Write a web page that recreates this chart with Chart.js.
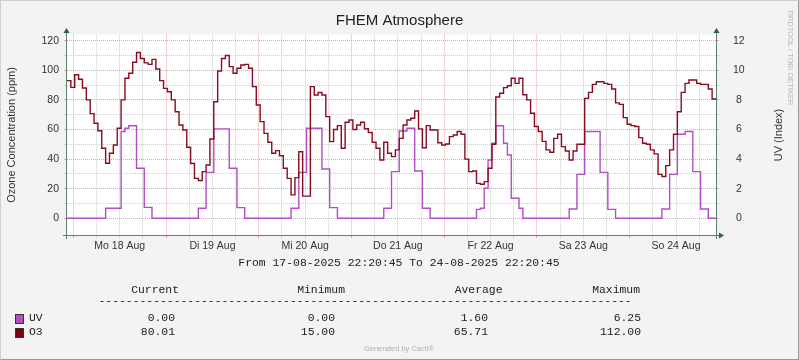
<!DOCTYPE html>
<html>
<head>
<meta charset="utf-8">
<script src="https://cdn.jsdelivr.net/npm/chart.js@4.4.1/dist/chart.umd.min.js"></script>
<style>
  html, body { margin: 0; padding: 0; background: #ffffff; }
  #wrap { position: relative; width: 799px; height: 360px; background: #f3f3f3; overflow: hidden; }
  #frame { position: absolute; left: 0; top: 0; width: 799px; height: 360px; box-sizing: border-box;
           border: 1px solid #cfcfcf; border-right-color: #9a9a9a; border-bottom-color: #9a9a9a; pointer-events: none; }
  canvas { position: absolute; left: 0; top: 0; }
  .lbl { position: absolute; white-space: pre; line-height: 1; }
  .mono { font-family: "Liberation Mono", "DejaVu Sans Mono", monospace; font-size: 11.4px; color: #222; }
  .sans { font-family: "Liberation Sans", Arial, sans-serif; color: #333; }
  .sw { position: absolute; width: 7px; height: 8px; border: 1px solid #333; }
</style>
</head>
<body>
<div id="wrap">
  <canvas id="c" width="799" height="360"></canvas>
  <div id="frame"></div>
</div>
<script>
// ---- time axis (hours counted from 17-08-2025 00:00) ----
const startHour = 22 + 20 / 60 + 45 / 3600;   // 17-08-2025 22:20:45
const spanHours = 168;                          // to 24-08-2025 22:20:45

// ---- O3 (ppm), one reading per hour from the start ----
const o3Values = [
  93, 88.5, 97, 94, 88, 80, 70.7, 64.2, 59.2, 47.3, 37.2, 43.9,
  49.5, 60.8, 80, 94.6, 98, 105.4, 112, 108, 105, 104, 107.4, 100.9,
  93, 87.8, 85.5, 80, 72, 63, 59.7, 48, 37, 27, 25.5, 31.5,
  36, 53.6, 78.8, 99.5, 108, 110, 102.5, 98, 101.4, 103.6, 104, 101.4,
  89, 76.6, 65.3, 57.4, 51.4, 43.9, 45.7, 42.3, 33.8, 27, 15.8, 27.5,
  45, 15, 15, 89, 83.3, 85, 83.3, 68.7, 51.8, 60, 62.6, 47.3,
  64.9, 66.4, 60, 63, 64.9, 60.5, 58, 51.4, 47.3, 39.4, 51.4, 43.9,
  41.7, 46.2, 54, 63, 66.4, 67.6, 72.5, 60.4, 47.7, 62.6, 59.7, 59.7,
  51, 49.5, 50.2, 55.2, 56.3, 58.6, 56.8, 40, 31.5, 32, 23.6, 23,
  24.8, 33.8, 50, 82, 84.5, 88.3, 89.6, 94.6, 91.2, 94.6, 83.5, 80,
  71, 62, 58.6, 52, 46.2, 44.6, 54, 56.8, 48.4, 45.5, 39.4, 45.5,
  50, 50, 81, 85.1, 90.5, 92.3, 92.3, 91.2, 90.5, 87.4, 78, 77,
  68, 63.5, 62.6, 62, 54.5, 50.7, 50, 46.2, 43.5, 29.7, 28.2, 35.6,
  46.2, 56.8, 72, 85.1, 91.2, 93.5, 93.5, 91.2, 90.5, 90.5, 87.4, 80.6,
  80.01
];

// ---- UV index, one reading per hour from the start ----
const uvValues = [
  0, 0, 0, 0, 0, 0, 0, 0, 0, 0, 0.68, 0.68,
  0.68, 0.68, 5.86, 6.08, 6.25, 6.25, 3.38, 3.38, 0.74, 0.74, 0, 0,
  0, 0, 0, 0, 0, 0, 0, 0, 0, 0, 0.68, 0.68,
  3.1, 3.1, 6.04, 6.04, 6.04, 6.04, 3.38, 3.38, 0.72, 0.72, 0, 0,
  0, 0, 0, 0, 0, 0, 0, 0, 0, 0, 0.68, 0.68,
  3.1, 3.1, 6.08, 6.08, 6.08, 6.08, 3.33, 3.33, 0.72, 0.72, 0, 0,
  0, 0, 0, 0, 0, 0, 0, 0, 0, 0, 0.68, 0.68,
  3.15, 3.15, 5.9, 5.9, 6.08, 6.08, 3.2, 3.2, 0.68, 0.68, 0, 0,
  0, 0, 0, 0, 0, 0, 0, 0, 0, 0, 0.6, 0.68,
  2.03, 3.94, 5.07, 6.25, 6.25, 5.07, 4.28, 1.35, 1.35, 0.68, 0, 0,
  0, 0, 0, 0, 0, 0, 0, 0, 0, 0, 0.63, 0.63,
  2.97, 2.97, 5.86, 5.86, 5.86, 5.86, 3.1, 3.1, 0.6, 0.6, 0, 0,
  0, 0, 0, 0, 0, 0, 0, 0, 0, 0, 0.63, 0.63,
  2.97, 2.97, 5.68, 5.68, 5.86, 5.86, 3.15, 3.15, 0.63, 0.63, 0, 0,
  0
];

// ---- axis ticks and labels ----
const gridHours = [24, 30, 36, 42, 48, 54, 60, 66, 72, 78, 84, 90, 96, 102, 108, 114, 120, 126,
                   132, 138, 144, 150, 156, 162, 168, 174, 180, 186];
const dayTickHours = [36, 60, 84, 108, 132, 156, 180];
const dayTickLabels = ['Mo 18 Aug', 'Di 19 Aug', 'Mi 20 Aug', 'Do 21 Aug', 'Fr 22 Aug', 'Sa 23 Aug', 'So 24 Aug'];
const o3Ticks = [0, 10, 20, 30, 40, 50, 60, 70, 80, 90, 100, 110, 120];
const o3Labels = [0, 20, 40, 60, 80, 100, 120];
const uvTicks = [0, 1, 2, 3, 4, 5, 6, 7, 8, 9, 10, 11, 12];
const uvLabels = [0, 2, 4, 6, 8, 10, 12];

// ---- legend table ----
const legendNames = ['UV', 'O3'];
const legendColors = ['#b54cc8', '#7c0012'];
const legendCurrent = ['0.00', '80.01'];
const legendMinimum = ['0.00', '15.00'];
const legendAverage = ['1.60', '65.71'];
const legendMaximum = ['6.25', '112.00'];

const O3_COLOR = '#880c1f';
const UV_COLOR = '#b34dc6';
const MAJOR = '#f0a0a0';
const MINOR = '#cdcdcd';
const AXIS = '#5f7f72';
const ARROW = '#2f5c4b';

const o3Points = o3Values.map((v, i) => ({ x: startHour + i, y: v }));
const uvPoints = uvValues.map((v, i) => ({ x: startHour + i, y: v }));

const framePlugin = {
  id: 'frame',
  beforeDraw(chart) {
    const { ctx, chartArea: a } = chart;
    ctx.save();
    ctx.fillStyle = '#ffffff';
    ctx.fillRect(a.left, a.top, a.right - a.left, a.bottom - a.top);
    ctx.restore();
  },
  afterDraw(chart) {
    const { ctx, chartArea: a } = chart;
    const lx = Math.round(a.left) - 0.5, rx = Math.round(a.right) + 0.5, by = Math.round(a.bottom) + 0.5;
    ctx.save();
    ctx.strokeStyle = AXIS;
    ctx.lineWidth = 1;
    ctx.beginPath();
    ctx.moveTo(lx, a.bottom + 4); ctx.lineTo(lx, a.top - 2);
    ctx.moveTo(rx, a.bottom + 4); ctx.lineTo(rx, a.top - 2);
    ctx.moveTo(a.left - 4, by); ctx.lineTo(a.right + 3, by);
    ctx.stroke();
    ctx.fillStyle = ARROW;
    const up = (x) => { ctx.beginPath(); ctx.moveTo(x - 3, a.top - 1.5); ctx.lineTo(x + 3, a.top - 1.5); ctx.lineTo(x, a.top - 6.5); ctx.closePath(); ctx.fill(); };
    up(lx); up(rx);
    ctx.beginPath(); ctx.moveTo(a.right + 3, by - 3); ctx.lineTo(a.right + 3, by + 3); ctx.lineTo(a.right + 8, by); ctx.closePath(); ctx.fill();
    ctx.restore();
  }
};

const tickFont = { family: 'Liberation Sans', size: 10.5 };

new Chart(document.getElementById('c'), {
  type: 'line',
  data: {
    datasets: [
      { label: 'O3', data: o3Points, yAxisID: 'y', borderColor: O3_COLOR, borderWidth: 1.4,
        pointRadius: 0, stepped: true, fill: false },
      { label: 'UV', data: uvPoints, yAxisID: 'y2', borderColor: UV_COLOR, borderWidth: 1.4,
        pointRadius: 0, stepped: true, fill: false }
    ]
  },
  options: {
    responsive: false,
    animation: false,
    devicePixelRatio: 1,
    layout: { padding: 0 },
    plugins: {
      legend: { display: false },
      tooltip: { enabled: false },
      title: {
        display: true, text: 'FHEM Atmosphere', color: '#222',
        font: { family: 'Liberation Sans', size: 15, weight: 'normal', lineHeight: 1.2 },
        padding: { top: 12, bottom: 4.5 }
      }
    },
    scales: {
      x: {
        type: 'linear', position: 'bottom',
        min: startHour, max: startHour + spanHours,
        afterBuildTicks: (s) => { s.ticks = gridHours.map(v => ({ value: v })); },
        afterFit: (s) => { s.height = 125; },
        ticks: {
          autoSkip: false, maxRotation: 0, minRotation: 0, padding: 2,
          color: '#333', font: tickFont,
          callback: (v) => { const k = dayTickHours.indexOf(v); return k >= 0 ? dayTickLabels[k] : ''; }
        },
        grid: {
          color: (c) => (c.tick && c.tick.value % 24 === 0) ? MAJOR : MINOR,
          lineWidth: 1, drawTicks: true, tickLength: 3
        },
        border: { display: false, dash: [1, 1] }
      },
      y: {
        type: 'linear', position: 'left',
        min: -11.3, max: 124.2,
        afterBuildTicks: (s) => { s.ticks = o3Ticks.map(v => ({ value: v })); },
        afterFit: (s) => { s.width = 67; },
        ticks: {
          padding: 5, color: '#333', font: tickFont,
          callback: (v) => o3Labels.includes(v) ? String(v) : ''
        },
        grid: {
          color: (c) => (c.tick && c.tick.value % 20 === 0) ? MAJOR : MINOR,
          lineWidth: 1, drawTicks: true, tickLength: 3
        },
        border: { display: false, dash: [1, 1] }
      },
      y2: {
        type: 'linear', position: 'right',
        min: -1.13, max: 12.42,
        afterBuildTicks: (s) => { s.ticks = uvTicks.map(v => ({ value: v })); },
        afterFit: (s) => { s.width = 83; },
        ticks: {
          padding: 14, color: '#333', font: tickFont, crossAlign: 'center',
          callback: (v) => uvLabels.includes(v) ? String(v) : ''
        },
        grid: {
          drawOnChartArea: false, drawTicks: true, tickLength: 3,
          color: (c) => (c.tick && c.tick.value % 2 === 0) ? MAJOR : MINOR
        },
        border: { display: false }
      }
    }
  },
  plugins: [framePlugin]
});

// ---- text around the graph ----
const wrap = document.getElementById('wrap');
function addText(text, x, y, cls, anchor, extra) {
  const d = document.createElement('div');
  d.className = 'lbl ' + cls;
  d.textContent = text;
  d.style.left = x + 'px';
  d.style.top = y + 'px';
  const tx = anchor === 'right' ? '-100%' : anchor === 'left' ? '0' : '-50%';
  d.style.transform = 'translate(' + tx + ',-50%)' + (extra || '');
  wrap.appendChild(d);
  return d;
}
const yt = addText('Ozone Concentration (ppm)', 11, 135, 'sans', 'center', ' rotate(-90deg)');
yt.style.fontSize = '11px';
const yt2 = addText('UV (Index)', 778, 135, 'sans', 'center', ' rotate(-90deg)');
yt2.style.fontSize = '11px';
const rrd = addText('RRDTOOL / TOBI OETIKER', 789.5, 58, 'sans', 'center', ' rotate(90deg)');
rrd.style.fontSize = '7.5px'; rrd.style.color = '#b9b9b9';

addText('From 17-08-2025 22:20:45 To 24-08-2025 22:20:45', 399, 263.5, 'mono', 'center');
addText('Current', 179, 291, 'mono', 'right');
addText('Minimum', 345, 291, 'mono', 'right');
addText('Average', 502.5, 291, 'mono', 'right');
addText('Maximum', 640, 291, 'mono', 'right');
addText('-'.repeat(78), 98.5, 302, 'mono', 'left');
const rowY = [318.5, 332.5];
legendNames.forEach((n, i) => {
  const s = document.createElement('div');
  s.className = 'sw';
  s.style.left = '15px'; s.style.top = (rowY[i] - 4.5) + 'px';
  s.style.background = legendColors[i];
  wrap.appendChild(s);
  addText(n, 29, rowY[i], 'mono', 'left');
  addText(legendCurrent[i], 175, rowY[i], 'mono', 'right');
  addText(legendMinimum[i], 335, rowY[i], 'mono', 'right');
  addText(legendAverage[i], 488, rowY[i], 'mono', 'right');
  addText(legendMaximum[i], 641, rowY[i], 'mono', 'right');
});
const gen = addText('Generated by Cacti®', 399, 349, 'sans', 'center');
gen.style.fontSize = '7.5px'; gen.style.color = '#b0b0b0';
</script>
</body>
</html>
